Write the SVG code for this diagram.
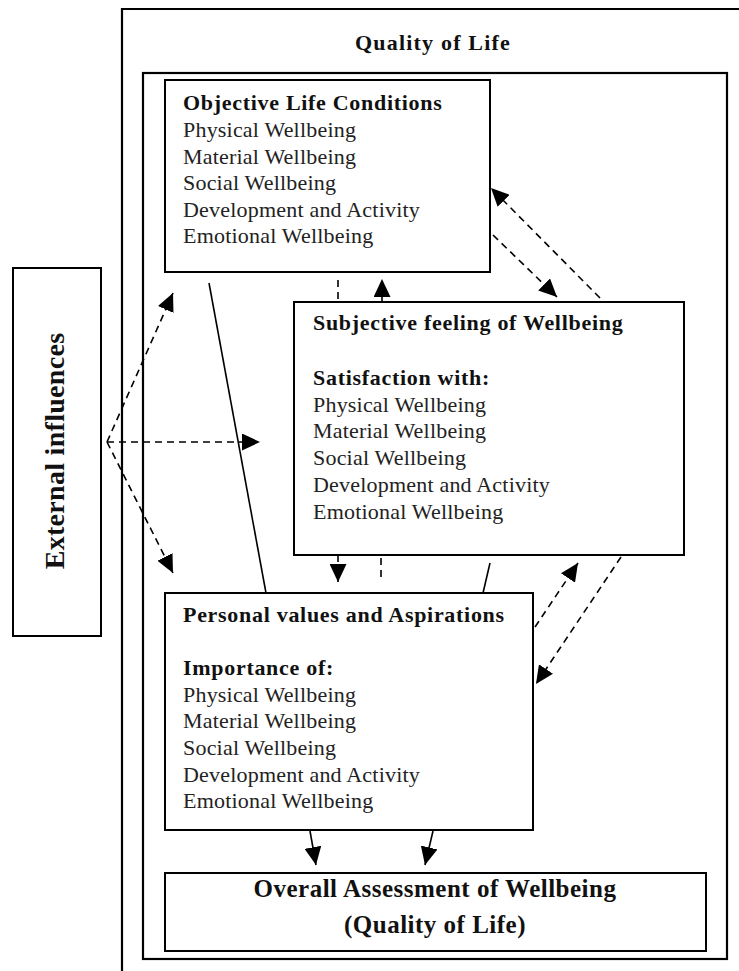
<svg xmlns="http://www.w3.org/2000/svg" width="739" height="971" viewBox="0 0 739 971">
<style>
.frame{fill:none;stroke:#000;stroke-width:2.2}
.box{fill:#fff;stroke:#000;stroke-width:2}
.h{font-family:"Liberation Serif",serif;font-weight:bold;font-size:22px;letter-spacing:0.7px;fill:#111}
.t{font-family:"Liberation Serif",serif;font-size:22px;letter-spacing:0.2px;fill:#222}
.big{font-family:"Liberation Serif",serif;font-weight:bold;font-size:25px;letter-spacing:0.5px;fill:#111}
.dash{fill:none;stroke:#000;stroke-width:1.6;stroke-dasharray:7 5}
.solid{fill:none;stroke:#000;stroke-width:1.6}
</style>
<defs>
<marker id="ah" markerUnits="userSpaceOnUse" markerWidth="18" markerHeight="17" refX="18" refY="8.5" orient="auto">
<path d="M0,0 L18,8.5 L0,17 z" fill="#000"/>
</marker>
</defs>
<rect width="739" height="971" fill="#fff"/>
<g id="quality-of-life">
<path class="frame" d="M122,971 L122,9 L739,9"/>
<rect class="frame" x="143" y="73" width="584" height="886"/>
<text class="h" x="433" y="50" text-anchor="middle" style="font-size:22px;letter-spacing:1.2px">Quality of Life</text>
</g>
<g id="external">
<rect class="box" x="13" y="268" width="88" height="368"/>
<text class="h" transform="translate(64,451) rotate(-90)" text-anchor="middle" style="font-size:28px;letter-spacing:0.3px">External influences</text>
</g>
<g id="objective">
<rect class="box" x="165" y="80" width="325" height="192"/>
<text class="h" x="183" y="110">Objective Life Conditions</text>
<text class="t" x="183" y="137">Physical Wellbeing</text>
<text class="t" x="183" y="164">Material Wellbeing</text>
<text class="t" x="183" y="190">Social Wellbeing</text>
<text class="t" x="183" y="217">Development and Activity</text>
<text class="t" x="183" y="243">Emotional Wellbeing</text>
</g>
<g id="subjective">
<rect class="box" x="294" y="302" width="390" height="253"/>
<text class="h" x="313" y="330">Subjective feeling of Wellbeing</text>
<text class="h" x="313" y="385">Satisfaction with:</text>
<text class="t" x="313" y="412">Physical Wellbeing</text>
<text class="t" x="313" y="438">Material Wellbeing</text>
<text class="t" x="313" y="465">Social Wellbeing</text>
<text class="t" x="313" y="492">Development and Activity</text>
<text class="t" x="313" y="519">Emotional Wellbeing</text>
</g>
<g id="personal">
<rect class="box" x="165" y="593" width="368" height="237"/>
<text class="h" x="183" y="622">Personal values and Aspirations</text>
<text class="h" x="183" y="675">Importance of:</text>
<text class="t" x="183" y="702">Physical Wellbeing</text>
<text class="t" x="183" y="728">Material Wellbeing</text>
<text class="t" x="183" y="755">Social Wellbeing</text>
<text class="t" x="183" y="782">Development and Activity</text>
<text class="t" x="183" y="808">Emotional Wellbeing</text>
</g>
<g id="overall">
<rect class="box" x="165" y="873" width="541" height="78"/>
<text class="big" x="435" y="897" text-anchor="middle">Overall Assessment of Wellbeing</text>
<text class="big" x="435" y="933" text-anchor="middle">(Quality of Life)</text>
</g>
<g id="connectors">
<path class="dash" d="M107,442 L173,293" marker-end="url(#ah)"/>
<path class="dash" d="M107,442 L260,442" marker-end="url(#ah)"/>
<path class="dash" d="M107,442 L173,573" marker-end="url(#ah)"/>
<path class="solid" d="M209,283 L266,593"/>
<path class="solid" d="M490,563 L483,593"/>
<path class="dash" d="M338,280 L338,302"/>
<path class="dash" d="M382,302 L382,279" marker-end="url(#ah)"/>
<path class="dash" d="M338,555 L338,582" marker-end="url(#ah)"/>
<path class="dash" d="M381,558 L381,580"/>
<path class="dash" d="M493,235 L557,297" marker-end="url(#ah)"/>
<path class="dash" d="M600,298 L491,188" marker-end="url(#ah)"/>
<path class="dash" d="M535,627 L578,563" marker-end="url(#ah)"/>
<path class="dash" d="M621,557 L536,684" marker-end="url(#ah)"/>
<path class="solid" d="M310,831 L316,865" marker-end="url(#ah)"/>
<path class="solid" d="M433,831 L425,865" marker-end="url(#ah)"/>
</g>
</svg>
